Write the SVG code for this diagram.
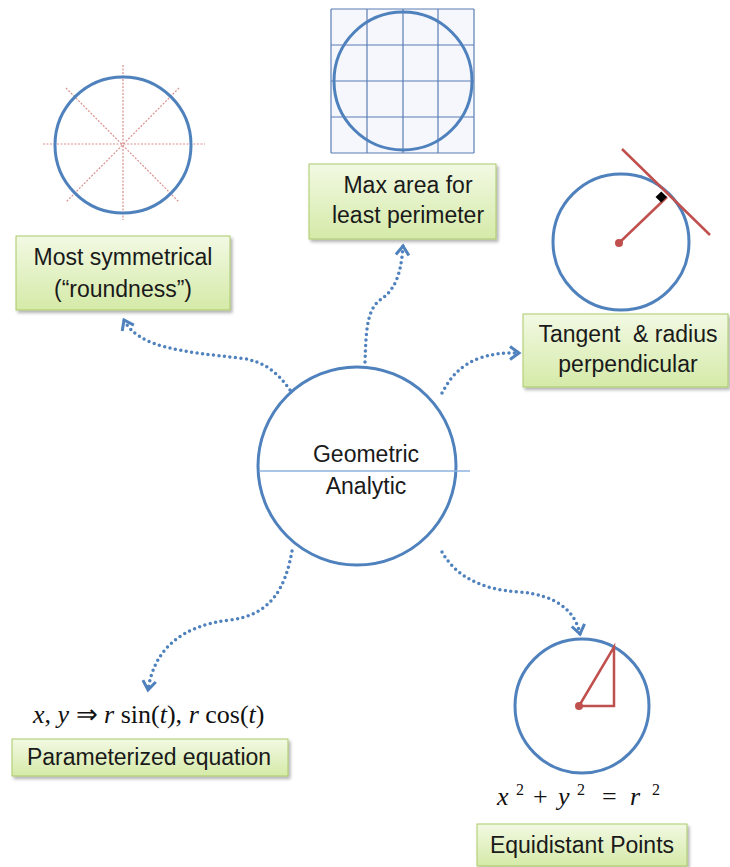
<svg xmlns="http://www.w3.org/2000/svg" width="730" height="867" viewBox="0 0 730 867">
<style>
.box{fill:url(#g);stroke:#a9c96b;stroke-width:1;filter:url(#sh)}
.lbl{font-family:"Liberation Sans",Arial,sans-serif;font-size:23px;fill:#1a1a1a;text-anchor:middle}
.blue{fill:none;stroke:#4f81bd;stroke-width:3}
.red{stroke:#c0504d;stroke-width:2.5;fill:none}
.dash{stroke:#d9908e;stroke-width:1.2;stroke-dasharray:2 1.5}
.con{fill:none;stroke:#4f81bd;stroke-width:3.5;stroke-dasharray:0 5.5;stroke-linecap:round;marker-end:url(#ah)}
.math{font-family:"Liberation Serif","Times New Roman",serif;font-size:26px;fill:#111}
.it{font-style:italic}
.grid{stroke:#5b7db3;stroke-width:1.2}
</style>
<defs>
<linearGradient id="g" x1="0" y1="0" x2="0" y2="1">
<stop offset="0" stop-color="#f2f9e3"/>
<stop offset="1" stop-color="#d5eaa8"/>
</linearGradient>
<filter id="sh" x="-10%" y="-10%" width="130%" height="140%">
<feDropShadow dx="2" dy="2.5" stdDeviation="1.5" flood-color="#000" flood-opacity="0.3"/>
</filter>
<marker id="ah" markerUnits="userSpaceOnUse" markerWidth="20" markerHeight="20" viewBox="-12 -10 14 20" refX="0" refY="0" orient="auto">
<path d="M-9,-6.5 L0,0 L-9,6.5" fill="none" stroke="#4f81bd" stroke-width="3" stroke-linejoin="miter"/>
</marker>
</defs>
<rect width="730" height="867" fill="#fff"/>

<g id="connectors">
<path class="con" d="M290,390 C276,370 262,361 240,358 C185,352 138,348 124,320"/>
<path class="con" d="M365,362 C366,330 367,310 380,300 C395,290 401,275 403,246"/>
<path class="con" d="M442,393 C450,378 460,365 480,358 C495,353 505,353 519,353"/>
<path class="con" d="M292,551 C285,590 270,615 230,620 C180,626 154,650 148,690"/>
<path class="con" d="M442,552 C455,575 480,590 520,592 C555,595 575,610 580,634"/>
</g>

<g id="center">
<circle cx="357" cy="466" r="99" fill="#fff" stroke="#4f81bd" stroke-width="3"/>
<line x1="259" y1="471" x2="470" y2="471" stroke="#8db3e2" stroke-width="1.5"/>
<text class="lbl" x="366" y="462" font-size="24">Geometric</text>
<text class="lbl" x="366" y="494" font-size="24">Analytic</text>
</g>

<g id="symmetry-figure">
<line class="dash" x1="43" y1="144" x2="205" y2="144"/>
<line class="dash" x1="123" y1="65" x2="123" y2="220"/>
<line class="dash" x1="66" y1="88" x2="179" y2="202"/>
<line class="dash" x1="179" y1="88" x2="66" y2="202"/>
<circle class="blue" cx="123" cy="145" r="68"/>
</g>

<g id="symmetry">
<rect class="box" x="16" y="236" width="214" height="74"/>
<text class="lbl" x="123" y="265">Most symmetrical</text>
<text class="lbl" x="123" y="297">(“roundness”)</text>
</g>

<g id="area-figure">
<rect x="331" y="9" width="143" height="144" fill="#f5f7fd"/>
<g class="grid">
<line x1="331" y1="9" x2="331" y2="153"/>
<line x1="367" y1="9" x2="367" y2="153"/>
<line x1="403" y1="9" x2="403" y2="153"/>
<line x1="438" y1="9" x2="438" y2="153"/>
<line x1="474" y1="9" x2="474" y2="153"/>
<line x1="331" y1="9" x2="474" y2="9"/>
<line x1="331" y1="45" x2="474" y2="45"/>
<line x1="331" y1="81" x2="474" y2="81"/>
<line x1="331" y1="117" x2="474" y2="117"/>
<line x1="331" y1="153" x2="474" y2="153"/>
</g>
<circle class="blue" cx="403" cy="81" r="69"/>
</g>

<g id="area">
<rect class="box" x="309" y="164" width="187" height="75"/>
<text class="lbl" x="408" y="193">Max area for</text>
<text class="lbl" x="408" y="223">least perimeter</text>
</g>

<g id="tangent-figure">
<circle class="blue" cx="621" cy="242" r="68"/>
<line class="red" x1="622" y1="149" x2="710" y2="235"/>
<line class="red" x1="619" y1="243" x2="667" y2="197"/>
<polygon points="667,197 661.2,202.5 655.5,196.9 661.3,191.4" fill="#000"/>
<circle cx="619" cy="243" r="4" fill="#c0504d"/>
</g>

<g id="tangent">
<rect class="box" x="523" y="314" width="205" height="73"/>
<text class="lbl" x="628" y="342" style="white-space:pre">Tangent  &amp; radius</text>
<text class="lbl" x="628" y="372">perpendicular</text>
</g>

<g id="parametric">
<text class="math" x="33" y="723"><tspan class="it">x</tspan>, <tspan class="it">y</tspan> ⇒ <tspan class="it">r</tspan> sin(<tspan class="it">t</tspan>), <tspan class="it">r</tspan> cos(<tspan class="it">t</tspan>)</text>
<rect class="box" x="12" y="739" width="276" height="37"/>
<text class="lbl" x="149" y="765">Parameterized equation</text>
</g>

<g id="equidistant-figure">
<circle class="blue" cx="582" cy="706" r="67"/>
<polyline class="red" points="579,706 614,706 614,647 579,706"/>
<circle cx="579" cy="706" r="4" fill="#c0504d"/>
<text class="math" y="805"><tspan class="it" x="497">x</tspan><tspan x="516" y="795" font-size="16">2</tspan><tspan x="533" y="805">+</tspan><tspan class="it" x="558">y</tspan><tspan x="577" y="795" font-size="16">2</tspan><tspan x="602" y="805">=</tspan><tspan class="it" x="630">r</tspan><tspan x="652" y="795" font-size="16">2</tspan></text>
</g>

<g id="equidistant">
<rect class="box" x="477" y="824" width="210" height="42"/>
<text class="lbl" x="582" y="853">Equidistant Points</text>
</g>
</svg>
